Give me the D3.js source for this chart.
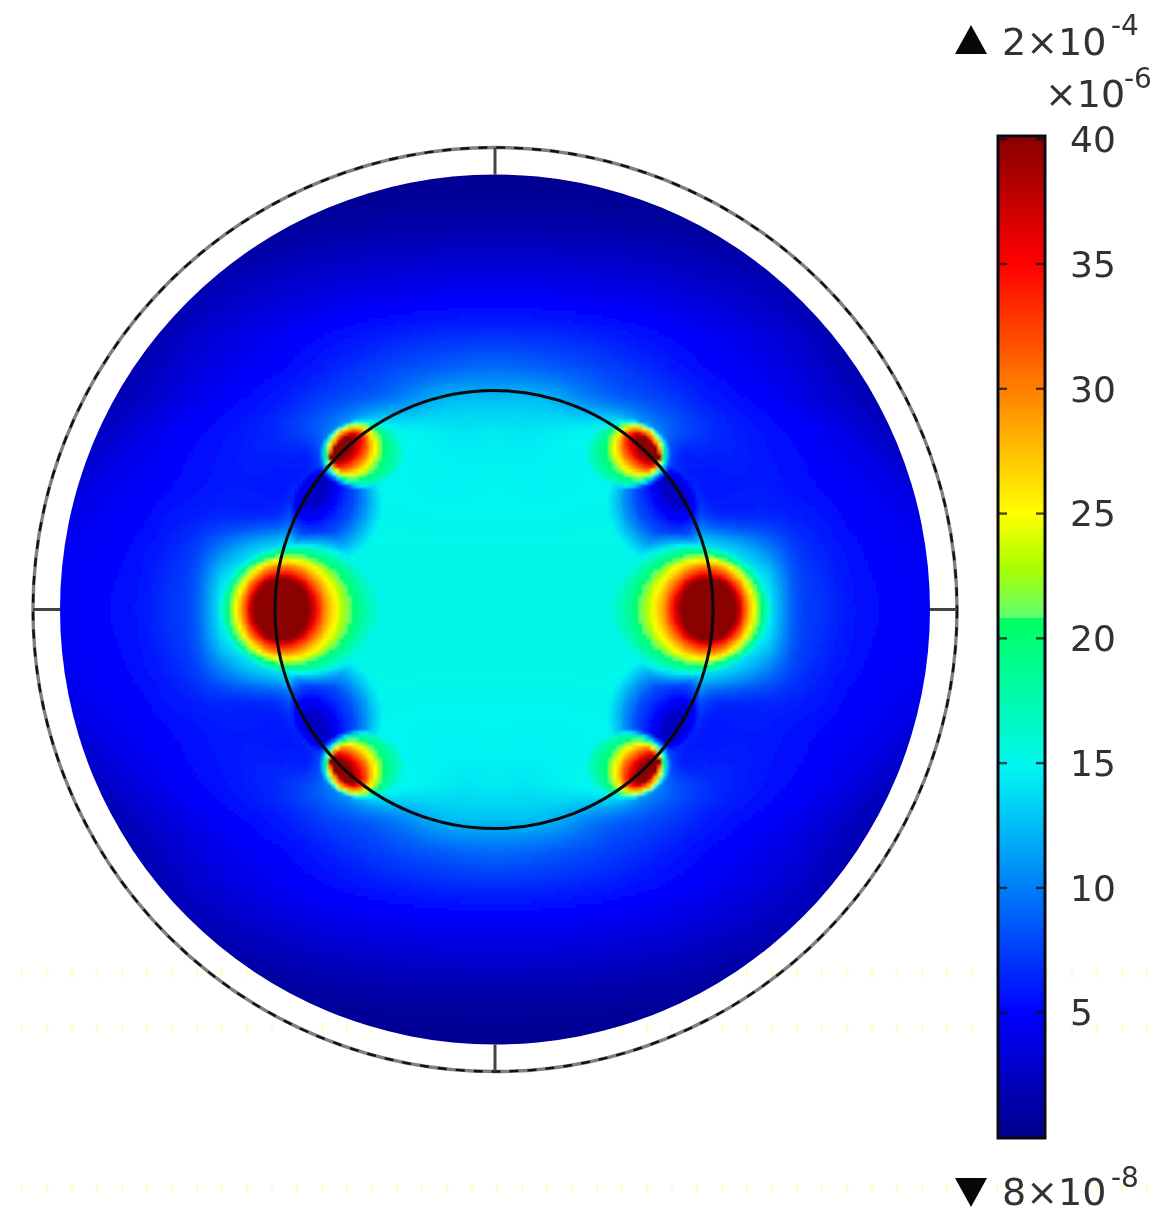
<!DOCTYPE html>
<html><head><meta charset="utf-8">
<style>html,body{margin:0;padding:0;background:#fff}svg{display:block}</style>
<script src="https://cdn.jsdelivr.net/npm/d3@7"></script></head>
<body><svg id="c" width="1164" height="1230"></svg>
<script>
// Field values (×10⁻⁶), one quadrant: distance from centre along x (columns) and y (rows)
const gridOffsets = [0,30,60,90,120,150,180,210,240,270,300,330,360,390,420,450];
const fieldRows = [
 [15.2,15.2,15.2,15.2,15.3,15.5,16.5,17,17,15,8.5,6.8,5.7,5.2,4.8,4.5],
 [15.2,15.2,15.2,15.2,15.3,15.3,16,16.5,16,14,8.3,6.7,5.6,5.1,4.7,4.4],
 [15.2,15.2,15.2,15.2,15.2,15.2,15.2,14.5,13,10.5,7.5,6.2,5.4,4.9,4.5,4.2],
 [15,15,15,15.1,15.1,15,13,8,7,6.8,6.3,5.7,5,4.6,4.2,3.8],
 [14.8,14.7,14.7,14.8,14.8,13.5,8,6,6,6,5.6,5.2,4.7,4.2,3.4,2.8],
 [14.6,14.6,14.7,14.8,15.2,15,7,6.2,6.2,5.8,5.4,4.8,4.2,3.4,2.4,1.6],
 [14.2,14,14.3,14.6,14.8,11.5,8.5,7,6.2,5.6,5,4.3,3.4,2.4,1.4,0.8],
 [12.5,12.6,12,10.5,9.2,8.2,7.2,6.2,5.5,4.9,4.2,3.3,2.4,1.5,0.8,0.4],
 [9.5,9.3,8.8,8.2,7.5,6.8,6,5.3,4.8,4.2,3.5,2.6,1.7,1,0.5,0.3],
 [7.2,7.1,6.9,6.6,6.2,5.7,5.2,4.7,4.2,3.6,2.9,2,1.2,0.6,0.3,0.3],
 [5.3,5.3,5.2,5,4.8,4.6,4.2,3.8,3.3,2.7,2.1,1.4,0.8,0.4,0.3,0.3],
 [3.9,3.9,3.8,3.7,3.5,3.3,3,2.6,2.2,1.8,1.3,0.8,0.4,0.3,0.3,0.3],
 [2.5,2.5,2.4,2.3,2.2,2,1.8,1.5,1.2,0.9,0.6,0.4,0.3,0.3,0.3,0.3],
 [1.2,1.2,1.1,1.1,1,0.9,0.8,0.6,0.5,0.4,0.3,0.3,0.3,0.3,0.3,0.3],
 [0.5,0.5,0.5,0.5,0.4,0.4,0.4,0.3,0.3,0.3,0.3,0.3,0.3,0.3,0.3,0.3],
 [0.3,0.3,0.3,0.3,0.3,0.3,0.3,0.3,0.3,0.3,0.3,0.3,0.3,0.3,0.3,0.3]
];
// Contour rings: [value, x offset, y offset, semi-axis a, semi-axis b, rotation deg]
const sideHotRings = [
 [40,213.5,0,28,31,0],[35,212.5,0,34.5,36,0],[30,211.5,0,41,43,0],
 [25,208.5,0,50,50,0],[21,205,0,60,54,0],[17,199,0,74,62,0],[5,107,0,188,92,0]
];
const cornerHotRings = [
 [40,153,161,17,8,-49],[35,149,160,20,12,-49],[30,146,159.5,23,17,-49],
 [25,143,159,25,22,-49],[21,141,158.5,29,26,-49],[17,133,156,37,31,0],[5,85,156,97,46,0]
];
const coldRings = [
 [2.5,178,117,16,9,-57],[5,178,114,28,19,-57],[8,174,109,38,32,-57],
 [11,170,105,46,40,-57],[14,166,101,54,48,-57],[16,164,98,62,56,-57]
];
const colorStops = [0,5,14.8,20.8,20.81,22.8,25,35,40];
const colorValues = ['#00008a','#0000ff','#00f6f2','#00ff60','#60ff70','#aaff00','#ffff00','#ff0000','#8b0000'];
const barTicks = [5,10,15,20,25,30,35,40];

const svg = d3.select('#c');
const CX=495, CY=609.5, R_FIELD=435, R_OUTER=462, R_INNER=219, CELL=3.75;
const color = d3.scaleLinear().domain(colorStops).range(colorValues).clamp(true);
const gridIndex = d3.scaleLinear().domain(d3.extent(gridOffsets)).range([0,gridOffsets.length-1]);

function cubic(a,b,c,d,t){return b+0.5*t*(c-a+t*(2*a-5*b+4*c-d+t*(3*(b-c)+d-a)));}
function clampI(i){return Math.max(0,Math.min(gridOffsets.length-1,i));}
function field(dx,dy){
  const fx=gridIndex(Math.min(dx,450)), fy=gridIndex(Math.min(dy,450)), ix=Math.floor(fx), iy=Math.floor(fy), tx=fx-ix, ty=fy-iy;
  const row=j=>{const r=fieldRows[clampI(Math.abs(j))];
    const at=i=>r[clampI(Math.abs(i))];
    return cubic(at(ix-1),at(ix),at(ix+1),at(ix+2),tx);};
  return cubic(row(iy-1),row(iy),row(iy+1),row(iy+2),ty);
}
function ringValue(rings,dx,dy){
  let prev=null;
  for(let k=0;k<rings.length;k++){
    const [v,cx,cy,a,b,rot]=rings[k], th=rot*Math.PI/180;
    const x=dx-cx,y=dy-cy, u=x*Math.cos(th)+y*Math.sin(th), w=-x*Math.sin(th)+y*Math.cos(th);
    const d=Math.hypot(u/a,w/b);
    if(d<=1){
      if(k===0) return v;
      const t=(prev-1)/((prev-1)+(1-d));
      return rings[k-1][0]+(v-rings[k-1][0])*t;
    }
    prev=d;
  }
  return null;
}
function value(dx,dy){
  let v=field(dx,dy);
  const c=ringValue(coldRings,dx,dy); if(c!==null&&c<v) v=c;
  const h=ringValue(sideHotRings,dx,dy); if(h!==null&&h>v) v=h;
  const g=ringValue(cornerHotRings,dx,dy); if(g!==null&&g>v) v=g;
  return Math.max(0,v);
}

const defs=svg.append('defs');
defs.append('clipPath').attr('id','disc').append('circle').attr('cx',CX).attr('cy',CY).attr('r',R_FIELD);
defs.append('filter').attr('id','soft').append('feGaussianBlur').attr('stdDeviation',0.6);
defs.append('filter').attr('id','cellblur').attr('x','-2%').attr('y','-2%').attr('width','104%').attr('height','104%')
  .append('feGaussianBlur').attr('stdDeviation',1.1);

// faint dotted artefact rows of the source image
const dotRows=[973,1028,1188];
svg.append('g').selectAll('line').data(dotRows).join('line')
  .attr('x1',10).attr('x2',1160).attr('y1',d=>d).attr('y2',d=>d)
  .attr('stroke','#fffbd8').attr('stroke-width',9).attr('stroke-dasharray','3 22').attr('stroke-dashoffset',-10.5);

// raster cells
const axisCells=d3.range(-Math.ceil(R_FIELD/CELL)-2,Math.ceil(R_FIELD/CELL)+3).map(i=>i*CELL);
const cells=[];
axisCells.forEach(x=>axisCells.forEach(y=>{ if(Math.hypot(x,y)<=R_FIELD+10) cells.push([x,y]); }));
const px=d3.scaleLinear().domain([-R_FIELD,R_FIELD]).range([CX-R_FIELD,CX+R_FIELD]);
const py=d3.scaleLinear().domain([-R_FIELD,R_FIELD]).range([CY-R_FIELD,CY+R_FIELD]);
svg.append('g').attr('clip-path','url(#disc)').append('g').attr('filter','url(#cellblur)').attr('shape-rendering','crispEdges').selectAll('rect').data(cells).join('rect')
  .attr('x',d=>px(d[0])-CELL/2).attr('y',d=>py(d[1])-CELL/2)
  .attr('width',CELL+0.6).attr('height',CELL+0.6)
  .attr('fill',d=>color(value(Math.abs(d[0]),Math.abs(d[1]))));

// geometry circles and ticks
svg.append('circle').attr('cx',CX).attr('cy',CY).attr('r',R_OUTER).attr('fill','none').attr('stroke','#808080').attr('stroke-width',3.4);
svg.append('circle').attr('cx',CX).attr('cy',CY).attr('r',R_OUTER).attr('fill','none').attr('stroke','#111').attr('stroke-width',2.4).attr('stroke-dasharray','9 9');
svg.append('circle').attr('cx',CX-1).attr('cy',CY).attr('r',R_INNER).attr('fill','none').attr('stroke','#0a0a0a').attr('stroke-width',3);
const crossTicks=[[0,-1],[0,1],[-1,0],[1,0]];
svg.append('g').selectAll('line').data(crossTicks).join('line')
  .attr('x1',d=>CX+d[0]*R_FIELD).attr('y1',d=>CY+d[1]*R_FIELD)
  .attr('x2',d=>CX+d[0]*R_OUTER).attr('y2',d=>CY+d[1]*R_OUTER)
  .attr('stroke','#444').attr('stroke-width',3);

// colour bar
const BAR={x:997,w:49,top:135,bot:1139};
const barY=d3.scaleLinear().domain([5,35]).range([1012.7,264]);
const barVals=d3.range(barY.invert(BAR.bot),barY.invert(BAR.top),0.04);
svg.append('g').attr('shape-rendering','crispEdges').selectAll('rect').data(barVals).join('rect')
  .attr('x',BAR.x).attr('width',BAR.w).attr('y',d=>barY(d)-1.2).attr('height',1.6).attr('fill',d=>color(d));
svg.append('rect').attr('x',BAR.x+1).attr('y',BAR.top+1).attr('width',BAR.w-2).attr('height',BAR.bot-BAR.top-2)
  .attr('fill','none').attr('stroke','#0a0a14').attr('stroke-width',3);
const axis=d3.axisRight(barY).tickValues(barTicks).tickSize(0).tickPadding(0);
const ag=svg.append('g').attr('transform','translate(1070,0)').call(axis);
ag.select('.domain').remove();
ag.selectAll('text').attr('font-family','DejaVu Sans').attr('font-size',36).attr('fill','#333').attr('x',0).attr('dy','0.34em').attr('filter','url(#soft)');
svg.append('g').selectAll('line').data(barTicks.flatMap(t=>[[t,0],[t,1]])).join('line')
  .attr('x1',d=>d[1]?BAR.x+BAR.w-10:BAR.x+1).attr('x2',d=>d[1]?BAR.x+BAR.w-1:BAR.x+10)
  .attr('y1',d=>barY(d[0])).attr('y2',d=>barY(d[0])).attr('stroke','#111').attr('stroke-width',2.4).attr('stroke-opacity',0.75);

// labels
const labels=[
 {t:'2×10',x:1002,y:55,s:38},{t:'-4',x:1111,y:35,s:28},
 {t:'×10',x:1045,y:107,s:38},{t:'-6',x:1124,y:88,s:28},
 {t:'8×10',x:1002,y:1205,s:38},{t:'-8',x:1111,y:1187,s:28}
];
svg.append('g').attr('filter','url(#soft)').selectAll('text').data(labels).join('text')
  .attr('x',d=>d.x).attr('y',d=>d.y).attr('font-size',d=>d.s).attr('font-family','DejaVu Sans').attr('fill','#333').text(d=>d.t);
const tri=d3.line();
svg.append('path').attr('d',tri([[971,25],[987,54],[955,54]])+'Z').attr('fill','#080808');
svg.append('path').attr('d',tri([[955,1178],[987,1178],[971,1207]])+'Z').attr('fill','#080808');
</script></body></html>
